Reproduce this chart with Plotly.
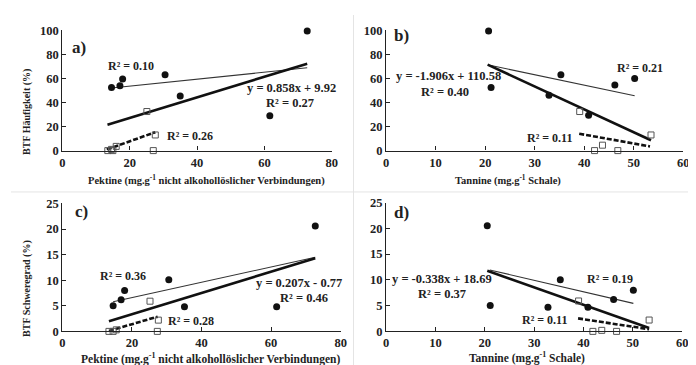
import plotly.graph_objects as go

# ---------------- data ----------------
# Panel a: BTF Häufigkeit vs Pektine
a_dot_x = [14.6, 17.1, 17.9, 30.5, 35.0, 61.6, 72.7]
a_dot_y = [52.5, 54.0, 59.5, 63.0, 45.5, 29.0, 99.5]
a_sq_x = [13.5, 14.6, 15.0, 16.0, 25.1, 27.0, 27.6]
a_sq_y = [0.0, 1.0, 0.0, 3.5, 32.5, 0.0, 13.0]

# Panel b: BTF Häufigkeit vs Tannine
b_dot_x = [20.7, 21.2, 32.9, 35.3, 40.9, 46.2, 50.2]
b_dot_y = [99.5, 52.5, 46.0, 63.0, 29.5, 54.5, 60.0]
b_sq_x = [39.1, 42.1, 43.7, 46.8, 53.5]
b_sq_y = [32.5, 0.0, 4.5, 0.0, 13.0]

# Panel c: BTF Schweregrad vs Pektine
c_dot_x = [14.6, 16.9, 17.9, 30.6, 35.1, 61.6, 72.7]
c_dot_y = [5.0, 6.2, 8.0, 10.1, 4.8, 4.8, 20.6]
c_sq_x = [13.4, 14.6, 15.5, 25.2, 27.3, 27.6]
c_sq_y = [0.0, 0.0, 0.3, 5.9, 0.0, 2.2]

# Panel d: BTF Schweregrad vs Tannine
d_dot_x = [20.5, 21.1, 32.8, 35.3, 40.9, 46.1, 50.1]
d_dot_y = [20.5, 5.0, 4.7, 10.0, 4.7, 6.2, 8.0]
d_sq_x = [39.0, 41.9, 43.7, 46.7, 53.3]
d_sq_y = [5.9, 0.0, 0.2, 0.0, 2.2]

# Trend lines: slope, intercept, x start, x end  (thin = dots, thick = all, dashed = squares)
panels = ["a", "b", "c", "d"]
thin_slope = [0.29, -0.869, 0.15, -0.223]
thin_icpt = [47.8, 89.2, 3.6, 16.6]
thin_x0 = [14.6, 21.2, 14.6, 21.0]
thin_x1 = [72.7, 50.2, 72.7, 50.1]
thick_slope = [0.858, -1.906, 0.207, -0.338]
thick_icpt = [9.92, 110.58, -0.77, 18.69]
thick_x0 = [13.4, 20.5, 13.4, 20.5]
thick_x1 = [72.7, 53.5, 72.7, 53.3]
dash_slope = [1.0, -0.74, 0.2, -0.146]
dash_icpt = [-12.3, 42.9, -2.6, 8.2]
dash_x0 = [13.2, 39.0, 13.4, 38.9]
dash_x1 = [27.6, 53.3, 27.4, 53.3]

eq_text = ["y = 0.858x + 9.92", "y = -1.906x + 110.58", "y = 0.207x - 0.77", "y = -0.338x + 18.69"]
r2_all = ["R² = 0.27", "R² = 0.40", "R² = 0.46", "R² = 0.37"]
r2_dot = ["R² = 0.10", "R² = 0.21", "R² = 0.36", "R² = 0.19"]
r2_sq = ["R² = 0.26", "R² = 0.11", "R² = 0.28", "R² = 0.11"]

x_ticks_pek = [0, 20, 40, 60, 80]
x_ticks_tan = [0, 10, 20, 30, 40, 50, 60]
y_ticks_freq = [0, 20, 40, 60, 80, 100]
y_ticks_sev = [0, 5, 10, 15, 20, 25]

# ---------------- figure ----------------
W, H = 696, 365
FONT = "Liberation Serif"
TXT = "#222222"

dots = [(a_dot_x, a_dot_y), (b_dot_x, b_dot_y), (c_dot_x, c_dot_y), (d_dot_x, d_dot_y)]
squares = [(a_sq_x, a_sq_y), (b_sq_x, b_sq_y), (c_sq_x, c_sq_y), (d_sq_x, d_sq_y)]

fig = go.Figure()
for i in range(4):
    xa = "x" if i == 0 else f"x{i+1}"
    ya = "y" if i == 0 else f"y{i+1}"
    # thin line
    fig.add_trace(go.Scatter(
        x=[thin_x0[i], thin_x1[i]],
        y=[thin_slope[i] * thin_x0[i] + thin_icpt[i], thin_slope[i] * thin_x1[i] + thin_icpt[i]],
        mode="lines", line=dict(color="#333333", width=1.1), xaxis=xa, yaxis=ya,
        showlegend=False, hoverinfo="skip"))
    # dashed line
    fig.add_trace(go.Scatter(
        x=[dash_x0[i], dash_x1[i]],
        y=[dash_slope[i] * dash_x0[i] + dash_icpt[i], dash_slope[i] * dash_x1[i] + dash_icpt[i]],
        mode="lines", line=dict(color="#111111", width=2.6, dash="5px,2px"), xaxis=xa, yaxis=ya,
        showlegend=False, hoverinfo="skip"))
    # thick line
    fig.add_trace(go.Scatter(
        x=[thick_x0[i], thick_x1[i]],
        y=[thick_slope[i] * thick_x0[i] + thick_icpt[i], thick_slope[i] * thick_x1[i] + thick_icpt[i]],
        mode="lines", line=dict(color="#111111", width=2.6), xaxis=xa, yaxis=ya,
        showlegend=False, hoverinfo="skip"))
    # squares
    fig.add_trace(go.Scatter(
        x=squares[i][0], y=squares[i][1], mode="markers",
        marker=dict(symbol="square-open", size=6, color="#555555", line=dict(width=1)),
        xaxis=xa, yaxis=ya, showlegend=False, cliponaxis=False))
    # dots
    fig.add_trace(go.Scatter(
        x=dots[i][0], y=dots[i][1], mode="markers",
        marker=dict(symbol="circle", size=7, color="#111111"),
        xaxis=xa, yaxis=ya, showlegend=False, cliponaxis=False))


def px(v):
    return v / W


def py(v):
    return 1 - v / H


axis_common = dict(showline=True, linecolor="#222222", linewidth=1.2, ticks="inside", ticklen=4,
                   tickcolor="#222222", tickwidth=1.2, showgrid=False, zeroline=False,
                   tickfont=dict(family=FONT, size=12.5, color=TXT, weight="bold"))

fig.update_layout(
    width=W, height=H, margin=dict(l=0, r=0, t=0, b=0),
    paper_bgcolor="white", plot_bgcolor="white",
    xaxis=dict(domain=[px(52), px(325)], range=[0, 80], tickvals=x_ticks_pek, anchor="y", **axis_common),
    yaxis=dict(domain=[py(141), py(16)], range=[0, 100], tickvals=y_ticks_freq, anchor="x", **axis_common),
    xaxis2=dict(domain=[px(380), px(681)], range=[0, 60], tickvals=x_ticks_tan, anchor="y2", **axis_common),
    yaxis2=dict(domain=[py(141), py(16)], range=[0, 100], tickvals=y_ticks_freq, anchor="x2", **axis_common),
    xaxis3=dict(domain=[px(52), px(334)], range=[0, 80], tickvals=x_ticks_pek, anchor="y3", **axis_common),
    yaxis3=dict(domain=[py(329), py(196)], range=[0, 25], tickvals=y_ticks_sev, anchor="x3", **axis_common),
    xaxis4=dict(domain=[px(380), px(680)], range=[0, 60], tickvals=x_ticks_tan, anchor="y4", **axis_common),
    yaxis4=dict(domain=[py(329), py(195)], range=[0, 25], tickvals=y_ticks_sev, anchor="x4", **axis_common),
)

# faint separators
fig.add_shape(type="line", xref="paper", yref="paper", x0=px(347), x1=px(347), y0=0, y1=1,
              line=dict(color="#e4e4e4", width=1))
fig.add_shape(type="line", xref="paper", yref="paper", x0=0, x1=1, y0=py(184), y1=py(184),
              line=dict(color="#e4e4e4", width=1))

ann = []


def t(text, x, y, xref, yref, size, angle=0):
    ann.append(dict(text=text, x=x, y=y, xref=xref, yref=yref, showarrow=False,
                    textangle=angle, xanchor="center", yanchor="middle",
                    font=dict(family=FONT, size=size, color=TXT, weight="bold")))


# panel letters
t("a)", 5.0, 86, "x", "y", 17)
t("b)", 3.2, 96, "x2", "y2", 17)
t("c)", 5.4, 23.4, "x3", "y3", 17)
t("d)", 3.2, 23.0, "x4", "y4", 17)

EQ = 12.5
R2 = 12
# fit labels  a
t(eq_text[0], 68, 52, "x", "y", EQ)
t(r2_all[0], 67.7, 40, "x", "y", EQ)
t(r2_dot[0], 20.5, 70.5, "x", "y", R2)
t(r2_sq[0], 37.8, 12, "x", "y", R2)
# b
t(eq_text[1], 12.6, 62, "x2", "y2", EQ)
t(r2_all[1], 11.8, 49, "x2", "y2", EQ)
t(r2_dot[1], 51.2, 69, "x2", "y2", R2)
t(r2_sq[1], 33.1, 10.5, "x2", "y2", R2)
# c
t(eq_text[2], 68, 9.4, "x3", "y3", EQ)
t(r2_all[2], 69.4, 6.6, "x3", "y3", EQ)
t(r2_dot[2], 17.4, 10.9, "x3", "y3", R2)
t(r2_sq[2], 36.9, 2.1, "x3", "y3", R2)
# d
t(eq_text[3], 11.3, 10.2, "x4", "y4", EQ)
t(r2_all[3], 11.4, 7.2, "x4", "y4", EQ)
t(r2_dot[3], 45.4, 10.1, "x4", "y4", R2)
t(r2_sq[3], 32.0, 2.2, "x4", "y4", R2)

# axis titles
pek_title = "Pektine (mg.g<sup>-1</sup> nicht alkohollöslicher Verbindungen)"
tan_title = "Tannine (mg.g<sup>-1</sup> Schale)"
t(pek_title, px(198), py(172), "paper", "paper", 10.5)
t(tan_title, px(504), py(172), "paper", "paper", 10.5)
t(pek_title, px(202), py(357), "paper", "paper", 11.5)
t(tan_title, px(523), py(356), "paper", "paper", 11.5)
t("BTF Häufigkeit (%)", px(16), py(101), "paper", "paper", 10, angle=-90)
t("BTF Schweregrad (%)", px(16), py(284), "paper", "paper", 10, angle=-90)

fig.update_layout(annotations=ann)
fig.write_html("out.html")
